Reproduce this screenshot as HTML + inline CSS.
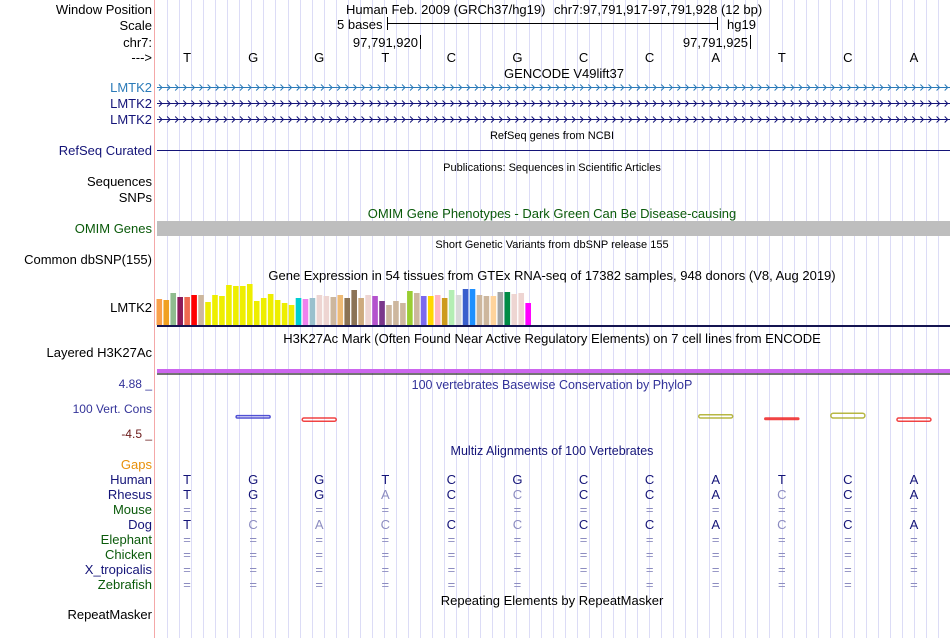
<!DOCTYPE html>
<html><head><meta charset="utf-8"><style>
html,body{margin:0;padding:0;background:#fff;}
svg{display:block;font-family:"Liberation Sans",sans-serif;}
</style></head><body>
<svg id="c" width="950" height="638" viewBox="0 0 950 638">
<g id="grid"></g>
<line x1="154.5" y1="0" x2="154.5" y2="638" stroke="#f4a8a8" stroke-width="1"/>
<g id="labels" font-size="13" text-anchor="end">
<text x="152" y="14" fill="#000">Window Position</text>
<text x="152" y="30" fill="#000">Scale</text>
<text x="152" y="47" fill="#000">chr7:</text>
<text x="152" y="62" fill="#000">---&gt;</text>
<text x="152" y="92" fill="#2a7ab8">LMTK2</text>
<text x="152" y="108" fill="#141478">LMTK2</text>
<text x="152" y="124" fill="#141478">LMTK2</text>
<text x="152" y="155" fill="#141478">RefSeq Curated</text>
<text x="152" y="186" fill="#000">Sequences</text>
<text x="152" y="202" fill="#000">SNPs</text>
<text x="152" y="233" fill="#0a5a0a">OMIM Genes</text>
<text x="152" y="264" fill="#000">Common dbSNP(155)</text>
<text x="152" y="312" fill="#000">LMTK2</text>
<text x="152" y="357" fill="#000">Layered H3K27Ac</text>
<text x="152" y="388" fill="#333399" font-size="12">4.88 _</text>
<text x="152" y="413" fill="#333399" font-size="12">100 Vert. Cons</text>
<text x="152" y="438" fill="#6a1a1a" font-size="12">-4.5 _</text>
<text x="152" y="469" fill="#e8900a">Gaps</text>
<text x="152" y="484" fill="#141478">Human</text>
<text x="152" y="499" fill="#141478">Rhesus</text>
<text x="152" y="514" fill="#0a5a0a">Mouse</text>
<text x="152" y="529" fill="#141478">Dog</text>
<text x="152" y="544" fill="#0a5a0a">Elephant</text>
<text x="152" y="559" fill="#0a5a0a">Chicken</text>
<text x="152" y="574" fill="#141478">X_tropicalis</text>
<text x="152" y="589" fill="#0a5a0a">Zebrafish</text>
<text x="152" y="619" fill="#000">RepeatMasker</text>
</g>
<g font-size="13" text-anchor="middle">
<text x="346" y="14" text-anchor="start">Human Feb. 2009 (GRCh37/hg19)</text>
<text x="554" y="14" text-anchor="start">chr7:97,791,917-97,791,928 (12 bp)</text>
<text x="337" y="29" text-anchor="start">5 bases</text>
<line x1="387.5" y1="17" x2="387.5" y2="30" stroke="#000"/><line x1="387" y1="23.5" x2="718" y2="23.5" stroke="#000"/><line x1="717.5" y1="17" x2="717.5" y2="30" stroke="#000"/>
<text x="727" y="29" text-anchor="start">hg19</text>
<text x="418" y="47" text-anchor="end">97,791,920</text>
<line x1="420.5" y1="35" x2="420.5" y2="49" stroke="#000"/>
<text x="748" y="47" text-anchor="end">97,791,925</text>
<line x1="750.5" y1="35" x2="750.5" y2="49" stroke="#000"/>
<text x="564" y="78">GENCODE V49lift37</text>
<text x="552" y="139" font-size="11">RefSeq genes from NCBI</text>
<text x="552" y="171" font-size="11">Publications: Sequences in Scientific Articles</text>
<text x="552" y="218" fill="#0a5a0a">OMIM Gene Phenotypes - Dark Green Can Be Disease-causing</text>
<text x="552" y="248" font-size="11">Short Genetic Variants from dbSNP release 155</text>
<text x="552" y="280">Gene Expression in 54 tissues from GTEx RNA-seq of 17382 samples, 948 donors (V8, Aug 2019)</text>
<text x="552" y="343">H3K27Ac Mark (Often Found Near Active Regulatory Elements) on 7 cell lines from ENCODE</text>
<text x="552" y="389" fill="#333399" font-size="12.5">100 vertebrates Basewise Conservation by PhyloP</text>
<text x="552" y="455" fill="#141478" font-size="12.5">Multiz Alignments of 100 Vertebrates</text>
<text x="552" y="605">Repeating Elements by RepeatMasker</text>
</g>
<g>
<line x1="157" y1="87.5" x2="950" y2="87.5" stroke="#2a7ab8"/>
<line x1="157" y1="103.5" x2="950" y2="103.5" stroke="#141478"/>
<line x1="157" y1="119.5" x2="950" y2="119.5" stroke="#141478"/>
<g id="chevs"></g>
<line x1="157" y1="150.5" x2="950" y2="150.5" stroke="#141478"/>
<rect x="157" y="221" width="793" height="15" fill="#bebebe"/>
</g>
<g id="gtex"></g>
<line x1="157" y1="326" x2="950" y2="326" stroke="#141450" stroke-width="2"/>
<rect x="157" y="369" width="793" height="4" fill="#cc66ee"/>
<line x1="157" y1="374" x2="950" y2="374" stroke="#222" stroke-width="1.2"/>
<g id="cons"></g>
<g id="multiz" font-size="13" text-anchor="middle"></g>
<g id="bases" font-size="13" text-anchor="middle"></g>
</svg>
<script>
const NS='http://www.w3.org/2000/svg';
const bases=['T','G','G','T','C','G','C','C','A','T','C','A'];
const rhesus=['T','G','G','A','C','C','C','C','A','C','C','A'];
const rhesusMatch=[1,1,1,0,1,0,1,1,1,0,1,1];
const dog=['T','C','A','C','C','C','C','C','A','C','C','A'];
const dogMatch=[1,0,0,0,1,0,1,1,1,0,1,1];
const gtexHeights=[26,25,32,28,28,30,30,23,30,29,40,39,39,41,24,27,31,25,22,20,27,26,27,30,29,28,30,27,35,27,30,29,24,20,24,22,34,32,29,29,30,27,35,30,36,36,30,29,29,33,33,31,32,22];
const gtexColors=['#f9a04a','#f0a020','#8fbc8f','#8b1a5a','#ee6a50','#ff0000','#cdb79e','#eeee00','#eeee00','#eeee00','#eeee00','#eeee00','#eeee00','#eeee00','#eeee00','#eeee00','#eeee00','#eeee00','#eeee00','#eeee00','#00ced1','#ee82ee','#9ac0cd','#eed5d2','#eed5d2','#cdb79e','#eebb77','#8b7355','#8b7355','#cdaa7d','#eed5d2','#b452cd','#7a378b','#cdb79e','#cdb79e','#cdb79e','#9acd32','#cdb79e','#7b68ee','#ffd700','#ffb6c1','#cd9b1d','#b4eeb4','#d9d9d9','#3a5fcd','#1e90ff','#cdb79e','#cdb79e','#ffd39b','#a6a6a6','#008b45','#eed5d2','#eed5d2','#ff00ff'];
const consValues=[0,0.3,-0.4,0,0,0,0,0,0.4,-0.1,0.6,-0.4];
const x0=157, baseW=(950-157)/12;
const bx=i=>x0+baseW*(i+0.5)-3;
function mk(tag,attrs,parent,txt){const e=document.createElementNS(NS,tag);for(const k in attrs)e.setAttribute(k,attrs[k]);if(txt!==undefined)e.textContent=txt;parent.appendChild(e);return e;}
const grid=document.getElementById('grid');
for(let x=167;x<950;x+=12.05){const l=mk('line',{x1:Math.round(x)+0.5,y1:0,x2:Math.round(x)+0.5,y2:638,stroke:'#dcdcf6','stroke-width':1},grid);

}
const ch=document.getElementById('chevs');
[[87.5,'#2a7ab8'],[103.5,'#141478'],[119.5,'#141478']].forEach(([y,c])=>{let d='';for(let x=159;x<948;x+=8.1){d+=`M${x.toFixed(1)},${y-3}L${(x+3).toFixed(1)},${y}L${x.toFixed(1)},${y+3}`;}
const p=mk('path',{d:d,fill:'none',stroke:c,'stroke-width':1},ch);

});
const bg=document.getElementById('bases');
bases.forEach((b,i)=>{const t=mk('text',{x:bx(i),y:62},bg,b);

});
const gt=document.getElementById('gtex');
const gBase=325, gScale=1, pitch=6.96;
gtexHeights.forEach((h,i)=>{const r=mk('rect',{x:(156.5+i*pitch).toFixed(2),y:gBase-h*gScale,width:5.6,height:h*gScale,fill:gtexColors[i]},gt);

});
const cg=document.getElementById('cons');
const cMid=418;
consValues.forEach((v,i)=>{if(!v)return;const cx=bx(i);const col=v>0?(i<4?'#3333cc':'#aaaa22'):'#ee2222';
const h=Math.max(1.5,Math.abs(v)*8);
const y=v>0?cMid-h:cMid;
const r=mk('rect',{x:cx-17,y:y,width:34,height:h,rx:h/2,fill:'none',stroke:col,'stroke-width':1.5,opacity:0.85},cg);

});
const mz=document.getElementById('multiz');
const dark='#141478', light='#8c8cc0';
function row(arr,match,y){arr.forEach((b,i)=>{const t=mk('text',{x:bx(i),y:y,fill:match[i]?dark:light},mz,b);

});}
row(bases,bases.map(()=>1),484);
row(rhesus,rhesusMatch,499);
row(dog,dogMatch,529);
[514,544,559,574,589].forEach(y=>{bases.forEach((b,i)=>{const t=mk('text',{x:bx(i),y:y,fill:light},mz,'=');

});});
</script>
</body></html>
